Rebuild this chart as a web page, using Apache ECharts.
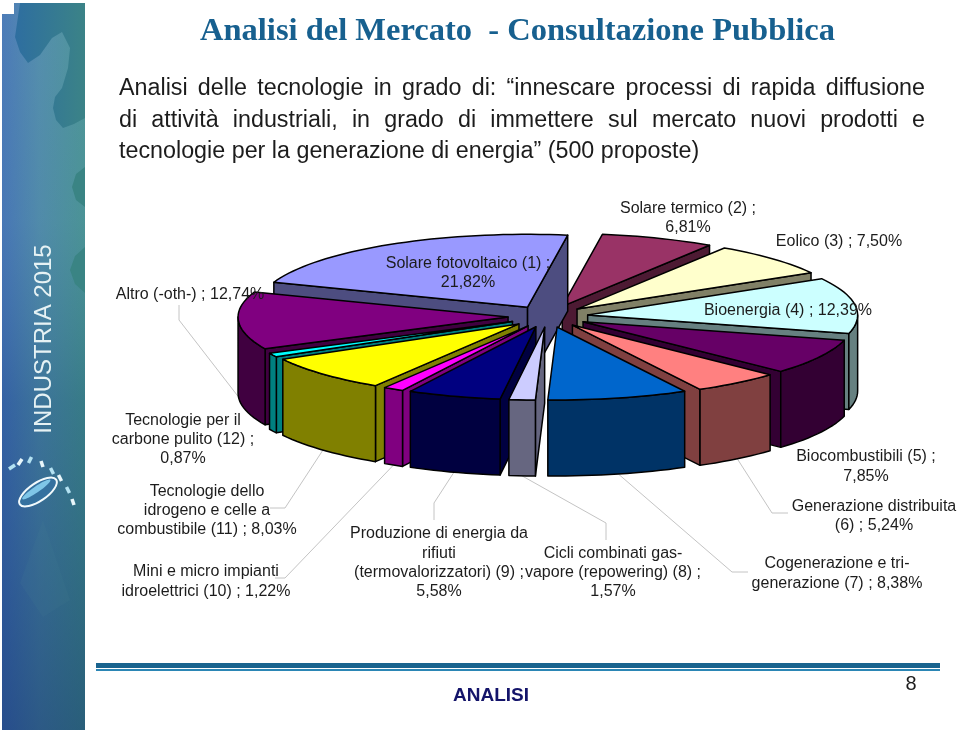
<!DOCTYPE html>
<html>
<head>
<meta charset="utf-8">
<style>html,body{margin:0;padding:0;background:#fff}#c{width:960px;height:734px}</style>
<script src="https://cdn.jsdelivr.net/npm/echarts@6/dist/echarts.min.js"></script>
</head>
<body>
<div id="c"></div>
<script>
var categories = [
  'Solare fotovoltaico (1) ;\n',
  'Solare termico (2) ;\n',
  'Eolico (3) ; ',
  'Bioenergia (4) ; ',
  'Biocombustibili (5) ;\n',
  'Generazione distribuita\n(6) ; ',
  'Cogenerazione e tri-\ngenerazione (7) ; ',
  'Cicli combinati gas-\nvapore (repowering) (8) ;\n',
  'Produzione di energia da\nrifiuti\n(termovalorizzatori) (9) ;\n',
  'Mini e micro impianti\nidroelettrici (10) ; ',
  'Tecnologie dello\nidrogeno e celle a\ncombustibile (11) ; ',
  'Tecnologie per il\ncarbone pulito (12) ;\n',
  'Altro (-oth-) ; '
];
var values = [21.82, 6.81, 7.50, 12.39, 7.85, 5.24, 8.38, 1.57, 5.58, 1.22, 8.03, 0.87, 12.74];
var topColors = ['#9999FF','#993366','#FFFFCC','#CCFFFF','#660066','#FF8080','#0066CC','#CCCCFF','#000080','#FF00FF','#FFFF00','#00FFFF','#800080'];
var sideColors = ['#4D4D80','#4D1A33','#808066','#668080','#330033','#804040','#003366','#666680','#000040','#800080','#808000','#008080','#400040'];
var labelCenters = [[468,273],[688,218],[839,241.5],[788,310.5],[866,466.5],[874,516],[837,573.5],[613,572.5],[439,563],[206,581.5],[207,510.5],[183,439.5],[190,295]];
var leaderBends = [null,null,null,null,null,[[772,513],[788,513]],[[732,572],[748,572]],[[606,523],[606,540]],[[434,503],[434,520]],[[285,578],[275,578]],[[285,508],[270,508]],null,[[179,320],[179,305]]];
var titleText = 'Analisi del Mercato  - Consultazione Pubblica';
var bodyLines = [
  'Analisi delle tecnologie in grado di: \u201Cinnescare processi di rapida diffusione',
  'di attivit\u00E0 industriali, in grado di immettere sul mercato nuovi prodotti e',
  'tecnologie per la generazione di energia\u201D (500 proposte)'
];

var CX = 548, CY = 316.5, R = 270, ASP = 0.27, EXPLODE = 40, DEPTH = 76, START = -70;
var RAD = Math.PI / 180;
var total = values.reduce(function (a, b) { return a + b; }, 0);
var spans = [];
(function () {
  var a = START;
  values.forEach(function (v) { var b = a + v / total * 360; spans.push([a, b]); a = b; });
})();
function apexOf(i) {
  var m = (spans[i][0] + spans[i][1]) / 2 * RAD;
  return [CX + EXPLODE * Math.sin(m), CY - EXPLODE * ASP * Math.cos(m)];
}
function rimPoint(apex, deg, dz) {
  return [apex[0] + R * Math.sin(deg * RAD), apex[1] - R * ASP * Math.cos(deg * RAD) + (dz || 0)];
}
function arc(apex, a, b, dz) {
  var n = Math.max(2, Math.ceil(Math.abs(b - a) / 2)), out = [];
  for (var k = 0; k <= n; k++) out.push(rimPoint(apex, a + (b - a) * k / n, dz));
  return out;
}
var paintOrder = values.map(function (v, i) { return i; }).sort(function (p, q) {
  var mp = (spans[p][0] + spans[p][1]) / 2 * RAD, mq = (spans[q][0] + spans[q][1]) / 2 * RAD;
  return Math.cos(mq) - Math.cos(mp);
});
function st(fill) { return { fill: fill, stroke: '#000', lineWidth: 1.5, lineJoin: 'round' }; }
function poly(points, fill) { return { type: 'polygon', shape: { points: points }, style: st(fill) }; }

function renderSlice(params, api) {
  var i = api.value(0), a = spans[i][0], b = spans[i][1], apex = apexOf(i), kids = [];
  var apexLow = [apex[0], apex[1] + DEPTH];
  function wall(deg) {
    var p = rimPoint(apex, deg);
    kids.push(poly([apex, p, [p[0], p[1] + DEPTH], apexLow], sideColors[i]));
  }
  var startNormal = a - 90, endNormal = b + 90;
  if (Math.cos((startNormal - 180) * RAD) > 0) wall(a);
  if (Math.cos((endNormal - 180) * RAD) > 0) wall(b);
  var lo = Math.max(a, 90), hi = Math.min(b, 270);
  if (hi > lo) {
    kids.push(poly(arc(apex, lo, hi, 0).concat(arc(apex, hi, lo, DEPTH)), sideColors[i]));
  }
  kids.push(poly([apex].concat(arc(apex, a, b, 0)), topColors[i]));
  return { type: 'group', z2: params.dataIndex, children: kids };
}

function fmt(v) { return v.toFixed(2).replace('.', ','); }
var graphics = [];
/* sidebar */
graphics.push({ type: 'rect', z: 0, shape: { x: 2, y: 3, width: 83, height: 727 }, style: { fill: { type: 'linear', x: 0, y: 0, x2: 1, y2: 0, colorStops: [{ offset: 0, color: '#3f6db6' }, { offset: 0.45, color: '#4a86a8' }, { offset: 1, color: '#43908f' }] } } });
graphics.push({ type: 'rect', z: 0, shape: { x: 2, y: 3, width: 83, height: 727 }, style: { fill: { type: 'linear', x: 0, y: 0, x2: 0, y2: 1, colorStops: [{ offset: 0, color: 'rgba(120,170,190,0.25)' }, { offset: 0.3, color: 'rgba(110,160,180,0.18)' }, { offset: 0.55, color: 'rgba(20,60,110,0.25)' }, { offset: 1, color: 'rgba(15,45,100,0.5)' }] } } });
graphics.push({ type: 'rect', z: 0, shape: { x: 0, y: 0, width: 14, height: 14 }, style: { fill: '#fff' } });
var lobeFill = { type: 'linear', x: 0, y: 0, x2: 1, y2: 0, colorStops: [{ offset: 0, color: '#2e6ea0' }, { offset: 1, color: '#3b8387' }] };
[
  { pts: [[20, 3], [85, 3], [85, 118], [74, 124], [63, 128], [56, 120], [53, 108], [55, 97], [62, 88], [68, 68], [70, 48], [62, 32], [52, 38], [40, 55], [28, 63], [20, 52], [15, 37]], c: lobeFill },
  { pts: [[85, 167], [76, 174], [72, 187], [76, 200], [85, 207]], c: '#3a8484' },
  { pts: [[85, 247], [75, 256], [70, 270], [75, 284], [85, 293]], c: '#3a8484' },
  { pts: [[20, 583], [43, 520], [70, 600], [43, 617]], c: 'rgba(70,130,150,0.12)' }
].forEach(function (g) {
  graphics.push({ type: 'polygon', z: 0, shape: { points: g.pts }, style: { fill: g.c } });
});
graphics.push({ type: 'text', z: 1, x: 44, y: 339, rotation: Math.PI / 2, style: { text: 'INDUSTRIA 2015', font: '24px "Liberation Sans"', fill: '#e6f2f4', textAlign: 'center', textVerticalAlign: 'middle' } });
graphics.push({ type: 'ellipse', z: 1, x: 38, y: 492, rotation: 0.6, shape: { cx: 0, cy: 0, rx: 22, ry: 9 }, style: { fill: '#35719f', stroke: '#f2fafc', lineWidth: 2 } });
graphics.push({ type: 'ellipse', z: 1, x: 38, y: 492, rotation: 0.6, shape: { cx: 0, cy: -3, rx: 17, ry: 3 }, style: { fill: '#7fc6e8' } });
var dashes = [[12, 467, 3, -2], [20, 462, 2, -3], [30, 460, 1.5, -3], [42, 464, -1, -3], [52, 471, -1.5, -3], [60, 478, -1.5, -3], [68, 490, -1.5, -3], [73, 502, -1, -3]];
dashes.forEach(function (d, k) {
  graphics.push({ type: 'line', z: 1, shape: { x1: d[0] - d[2], y1: d[1] - d[3], x2: d[0] + d[2], y2: d[1] + d[3] }, style: { stroke: k % 2 ? '#e8f6fa' : '#b4e2f2', lineWidth: 3.5 } });
});
/* title and body */
graphics.push({ type: 'text', z: 1, x: 517.5, y: 32, style: { text: titleText, font: 'bold 32.5px "Liberation Serif"', fill: '#17608f', textAlign: 'center', textVerticalAlign: 'middle' } });
var BODY_FONT = '23.3px "Liberation Sans"';
var measure = document.createElement('canvas').getContext('2d');
measure.font = BODY_FONT;
var BODY_LEFT = 119, BODY_RIGHT = 925;
bodyLines.forEach(function (t, k) {
  var y = 89 + k * 31.5;
  if (k === bodyLines.length - 1) {
    graphics.push({ type: 'text', z: 1, x: BODY_LEFT, y: y, style: { text: t, font: BODY_FONT, fill: '#1c1c1c', textAlign: 'left', textVerticalAlign: 'middle' } });
    return;
  }
  var words = t.split(' ');
  var sum = words.reduce(function (s, w) { return s + measure.measureText(w).width; }, 0);
  var gap = (BODY_RIGHT - BODY_LEFT - sum) / (words.length - 1), px = BODY_LEFT;
  words.forEach(function (w) {
    graphics.push({ type: 'text', z: 1, x: px, y: y, style: { text: w, font: BODY_FONT, fill: '#1c1c1c', textAlign: 'left', textVerticalAlign: 'middle' } });
    px += measure.measureText(w).width + gap;
  });
});
/* footer */
graphics.push({ type: 'rect', z: 1, shape: { x: 96, y: 663, width: 844, height: 5 }, style: { fill: '#1a648f' } });
graphics.push({ type: 'rect', z: 1, shape: { x: 96, y: 669, width: 844, height: 2 }, style: { fill: '#2b86b5' } });
graphics.push({ type: 'text', z: 1, x: 491, y: 696, style: { text: 'ANALISI', font: 'bold 19px "Liberation Sans"', fill: '#14146a', textAlign: 'center', textVerticalAlign: 'middle' } });
graphics.push({ type: 'text', z: 1, x: 911, y: 684, style: { text: '8', font: '20px "Liberation Sans"', fill: '#1c1c1c', textAlign: 'center', textVerticalAlign: 'middle' } });
/* leaders and data labels */
values.forEach(function (v, i) {
  var bend = leaderBends[i];
  if (bend) {
    var m = (spans[i][0] + spans[i][1]) / 2;
    var start = rimPoint(apexOf(i), m, DEPTH);
    graphics.push({ type: 'polyline', z: 1, shape: { points: [start].concat(bend) }, style: { stroke: '#c4c4c4', lineWidth: 1, fill: 'none' } });
  }
  graphics.push({ type: 'text', z: 100, x: labelCenters[i][0], y: labelCenters[i][1], style: { text: categories[i] + fmt(v) + '%', font: '16px "Liberation Sans"', lineHeight: 19.3, fill: '#1c1c1c', textAlign: 'center', textVerticalAlign: 'middle' } });
});

var chart = echarts.init(document.getElementById('c'), null, { renderer: 'canvas' });
chart.setOption({
  animation: false,
  backgroundColor: '#fff',
  graphic: { elements: graphics },
  series: [{
    type: 'custom',
    coordinateSystem: 'none',
    silent: true,
    z: 5,
    renderItem: renderSlice,
    data: paintOrder.map(function (i) { return [i, values[i]]; })
  }]
});
</script>
</body>
</html>
